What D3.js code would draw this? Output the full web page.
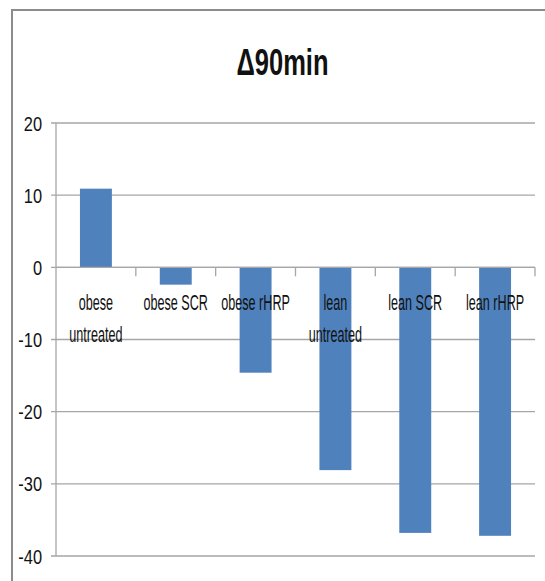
<!DOCTYPE html>
<html>
<head>
<meta charset="utf-8">
<script src="https://cdn.jsdelivr.net/npm/d3@7"></script>
<style>
  html, body { margin: 0; padding: 0; background: #fff; }
  svg { display: block; }
  text { font-family: "Liberation Sans", Arial, sans-serif; fill: #111; }
</style>
</head>
<body>
<div id="chart"></div>
<script>
const title = "Δ90min";
const categories = [
  ["obese", "untreated"],
  ["obese SCR"],
  ["obese rHRP"],
  ["lean", "untreated"],
  ["lean SCR"],
  ["lean rHRP"]
];
const values = [10.9, -2.4, -14.6, -28.1, -36.8, -37.2];
const yTicks = [20, 10, 0, -10, -20, -30, -40];

const W = 545, H = 581;
const svg = d3.select("#chart").append("svg").attr("width", W).attr("height", H);

// outer chart border (only top and left visible)
svg.append("path")
  .attr("d", "M12,600 L12,10 L560,10")
  .attr("fill", "none").attr("stroke", "#8c8c8c").attr("stroke-width", 2);

const labels = categories.map(c => c.join(" "));
const x = d3.scaleBand().domain(labels).range([56, 535]).padding(0);
const y = d3.scaleLinear().domain([-40, 20]).range([556, 123]);

// gridlines
svg.append("g").selectAll("line").data(yTicks).join("line")
  .attr("x1", 51).attr("x2", 535)
  .attr("y1", d => y(d)).attr("y2", d => y(d))
  .attr("stroke", "#a6a6a6").attr("stroke-width", 1.3);

// y axis line
svg.append("line")
  .attr("x1", 56).attr("x2", 56).attr("y1", y(20)).attr("y2", y(-40))
  .attr("stroke", "#a6a6a6").attr("stroke-width", 1.3);

// y tick labels
svg.append("g").selectAll("text").data(yTicks).join("text")
  .attr("transform", d => `translate(42,${y(d) + 7.5}) scale(0.8,1)`)
  .attr("text-anchor", "end")
  .attr("font-size", 20.5)
  .text(d => d);

// bars
const bw = x.bandwidth() * 0.4;
svg.append("g").selectAll("rect").data(values).join("rect")
  .attr("x", (d, i) => x(labels[i]) + x.bandwidth() / 2 - bw / 2)
  .attr("width", bw)
  .attr("y", d => y(Math.max(0, d)))
  .attr("height", d => Math.abs(y(d) - y(0)))
  .attr("fill", "#4f81bd");

// zero line category ticks
const tickXs = labels.map(l => x(l)).concat([x(labels[labels.length - 1]) + x.bandwidth()]);
svg.append("g").selectAll("line").data(tickXs.slice(1)).join("line")
  .attr("x1", d => d).attr("x2", d => d)
  .attr("y1", y(0)).attr("y2", y(0) + 9)
  .attr("stroke", "#a6a6a6").attr("stroke-width", 1.3);
svg.append("line")
  .attr("x1", 56).attr("x2", 535).attr("y1", y(0)).attr("y2", y(0))
  .attr("stroke", "#a6a6a6").attr("stroke-width", 1.3);

// category labels
const cg = svg.append("g");
categories.forEach((lines, i) => {
  const cx = x(labels[i]) + x.bandwidth() / 2;
  lines.forEach((ln, j) => {
    cg.append("text")
      .attr("transform", `translate(${cx},${310 + j * 32}) scale(0.56,1)`)
      .attr("text-anchor", "middle")
      .attr("font-size", 22.5)
      .text(ln);
  });
});

// title
svg.append("text")
  .attr("transform", `translate(282.5,75) scale(0.69,1)`)
  .attr("text-anchor", "middle")
  .attr("font-size", 37)
  .attr("font-weight", "bold")
  .text(title);
</script>
</body>
</html>
